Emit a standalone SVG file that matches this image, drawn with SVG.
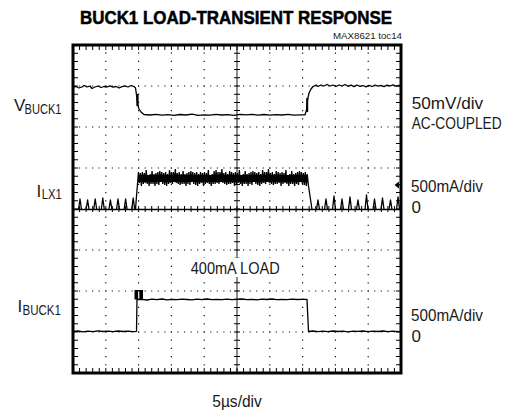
<svg xmlns="http://www.w3.org/2000/svg" width="512" height="414" viewBox="0 0 512 414">
<style>
.t{font-family:"Liberation Sans",Arial,sans-serif;fill:#1a1a1a}
.lab{font-size:17px}
.sub{font-size:14px}
.title{font-family:"Liberation Sans",Arial,sans-serif;font-weight:700;font-size:17.5px;fill:#000;stroke:#000;stroke-width:0.5}
.grid{fill:none;stroke:#111;stroke-width:1.2}
.tr{fill:none;stroke:#000;stroke-width:1.3;stroke-linejoin:round}
</style>
<rect width="512" height="414" fill="#fff"/>
<g id="title">
<text class="title" x="236" y="24" text-anchor="middle" textLength="312" lengthAdjust="spacingAndGlyphs">BUCK1 LOAD-TRANSIENT RESPONSE</text>
<text class="t" x="402" y="39.3" font-size="9" text-anchor="end" textLength="69" lengthAdjust="spacingAndGlyphs" fill="#333">MAX8621 toc14</text>
</g>
<g id="screen">
<rect x="73" y="45" width="328" height="328" fill="none" stroke="#000" stroke-width="3"/>
<path class="grid" stroke-dasharray="1.2 7" d="M105.8,44.4V373M138.6,44.4V373M171.4,44.4V373M204.2,44.4V373M269.8,44.4V373M302.6,44.4V373M335.4,44.4V373M368.2,44.4V373"/>
<path class="grid" stroke-dasharray="1.2 5.36" d="M72.4,86H401M72.4,127H401M72.4,168H401M72.4,250H401M72.4,291H401M72.4,332H401"/>
<path fill="none" stroke="#000" stroke-width="4" stroke-dasharray="1 7.2" d="M76,44.5V373M398,44.5V373"/>
<path fill="none" stroke="#000" stroke-width="4" stroke-dasharray="1 5.56" d="M72.5,48H401M72.5,370H401"/>
<path fill="none" stroke="#000" stroke-width="0.9" d="M237,45V373"/>
<path fill="none" stroke="#000" stroke-width="6" stroke-dasharray="1 7.2" d="M237,44.5V373"/>
<path fill="none" stroke="#000" stroke-width="6" stroke-dasharray="1 5.56" d="M72.5,209H401"/>
</g>
<g id="traces">
<polyline id="vbuck1-trace" class="tr" points="73,87 76,86.5 79,88 82,87 84,85.5 87,87 90,86 92,88.5 95,87 98,86 101,87.5 104,86.5 107,87 110,85.8 113,87.2 116,86.5 119,88 122,86.7 125,86 128,87 131,85.5 134,86.5 135.5,88 136.5,95 137.5,104 139,109 141,112 144,114.5 150,115 156,114.3 162,115.2 168,114.6 174,115.3 180,114.5 186,115 192,114.2 198,115.4 204,114.8 210,115.2 216,114.4 222,115 228,114.7 234,115.3 240,114.4 246,114.9 252,114.3 258,115.1 264,114.5 270,115.2 276,114.6 282,115 288,114.4 294,115.1 300,114.8 305,114.8 306.5,110 307.5,100 309,93 311,89 313,86.5 316,85 318,86.5 321,85 324,86 327,84.5 330,86 333,85 336,86.5 339,85 342,86 345,84.5 348,86.3 351,85.2 354,86.6 357,85 360,86.4 363,85.5 366,86.8 369,85.3 372,86.5 375,85 378,86.2 381,85.4 384,86.7 387,85.2 390,86 393,84.8 396,86.2 399,85.5 401,86"/>
<path fill="none" stroke="#000" stroke-width="2.2" d="M137.5,94V106"/>
<path fill="none" stroke="#000" stroke-width="2" d="M307.2,112V98"/>
<path id="ilx1-trace" class="tr" stroke-width="1.1" d="M73,209.5H401M78.5,209.5L80,199L81.5,209.5M86.1,209.5L87.6,200L89.1,209.5M93.7,209.5L95.2,199L96.7,209.5M101.3,209.5L102.8,198L104.3,209.5M108.9,209.5L110.4,200L111.9,209.5M116.5,209.5L118,199L119.5,209.5M124.1,209.5L125.6,199L127.1,209.5M131.7,209.5L133.2,198L134.7,209.5M316.5,209.5L318,200L319.5,209.5M324.5,209.5L326,199L327.5,209.5M332.5,209.5L334,196L335.5,209.5M340.5,209.5L342,199L343.5,209.5M348.5,209.5L350,197L351.5,209.5M356.5,209.5L358,200L359.5,209.5M365,209.5L366.5,195L368,209.5M373,209.5L374.5,199L376,209.5M381,209.5L382.5,198L384,209.5M389,209.5L390.5,200L392,209.5M396.5,209.5L398,197L399.5,209.5"/>
<rect x="138" y="175" width="170" height="7" fill="#000"/>
<path id="ilx1-band" fill="none" stroke="#000" stroke-width="1.3" stroke-linejoin="miter" d="M135.5,209.5L136.5,196L137.5,184
l.97,-12 .97,11 .97,-10 .97,13 .97,-14 .97,12 .97,-11 .97,10 .97,-13 .97,14 .97,-9 .97,11 .97,-12 .97,10 .97,-13 .97,13
l.97,-10 .97,12 .97,-13 .97,11 .97,-12 .97,13 .97,-14 .97,11 .97,-10 .97,12 .97,-11 .97,12 .97,-13 .97,14 .97,-12 .97,10
l.97,-14 .97,13 .97,-11 .97,12 .97,-12 .97,10 .97,-13 .97,14 .97,-10 .97,11 .97,-12 .97,13 .97,-11 .97,10 .97,-13 .97,13
l.97,-10 .97,12 .97,-13 .97,11 .97,-12 .97,13 .97,-14 .97,11 .97,-10 .97,12 .97,-11 .97,12 .97,-13 .97,14 .97,-12 .97,10
l.97,-12 .97,11 .97,-10 .97,13 .97,-14 .97,12 .97,-11 .97,10 .97,-13 .97,14 .97,-9 .97,11 .97,-12 .97,10 .97,-13 .97,13
l.97,-14 .97,13 .97,-11 .97,12 .97,-12 .97,10 .97,-13 .97,14 .97,-10 .97,11 .97,-12 .97,13 .97,-11 .97,10 .97,-13 .97,13
l.97,-12 .97,11 .97,-10 .97,13 .97,-14 .97,12 .97,-11 .97,10 .97,-13 .97,14 .97,-9 .97,11 .97,-12 .97,10 .97,-13 .97,13
l.97,-10 .97,12 .97,-13 .97,11 .97,-12 .97,13 .97,-14 .97,11 .97,-10 .97,12 .97,-11 .97,12 .97,-13 .97,14 .97,-12 .97,10
l.97,-14 .97,13 .97,-11 .97,12 .97,-12 .97,10 .97,-13 .97,14 .97,-10 .97,11 .97,-12 .97,13 .97,-11 .97,10 .97,-13 .97,13
l.97,-12 .97,11 .97,-10 .97,13 .97,-14 .97,12 .97,-11 .97,10 .97,-13 .97,14 .97,-9 .97,11 .97,-12 .97,10 .97,-13 .97,13
l.97,-10 .97,12 .97,-13 .97,11 .97,-12 .97,13 .97,-14 .97,11 .97,-10 .97,12 .97,-11 .97,12 .97,-13 .97,14 .97,-12 .97,10
L310,196L312,209.5"/>
<polyline id="ibuck1-trace" class="tr" points="73,331.5 78,331 83,331.8 88,331.2 93,331.6 98,330.8 103,331.5 108,331.2 113,331.7 118,331 123,331.5 128,331.1 133,331.6 136.5,331.3 137,299.5 142,299.3 147,300 152,299.2 157,299.6 162,299 167,299.8 172,299.4 177,299.7 182,299.1 187,299.5 192,299.8 197,299.2 202,299.6 207,299 212,299.7 217,299.3 222,299.6 227,299.1 232,299.7 237,299.4 242,299 247,299.6 252,299.3 257,299.8 262,299.2 267,299.5 272,299 277,299.6 282,299.3 287,299.7 292,299.1 297,299.5 302,299.3 307,299.4 308.5,331.5 313,331 318,331.7 323,331.2 328,331.6 333,331 338,331.5 343,331.2 348,331.8 353,331.1 358,331.4 363,331 368,331.6 373,331.2 378,331.5 383,331 388,331.6 393,331.2 398,331.7 401,331.3"/>
<rect x="134.5" y="290" width="8.5" height="9.5" fill="#000"/>
<path d="M138.7,291.5V298.5" stroke="#fff" stroke-width="1.2"/>
<polygon points="394.5,185 399,181.5 399,188.5" fill="#000"/>
</g>
<g id="node-vbuck1">
<text class="t lab" x="14" y="111">V</text>
<text class="t sub" x="61.5" y="114" text-anchor="end" textLength="37" lengthAdjust="spacingAndGlyphs">BUCK1</text>
</g>
<g id="node-ilx1">
<text class="t lab" x="36.5" y="196.5">I</text>
<text class="t sub" x="41.7" y="199" textLength="20" lengthAdjust="spacingAndGlyphs">LX1</text>
</g>
<g id="node-ibuck1">
<text class="t lab" x="17.5" y="311.5">I</text>
<text class="t sub" x="22.5" y="314.5" textLength="38.5" lengthAdjust="spacingAndGlyphs">BUCK1</text>
</g>
<g id="scale-labels">
<text class="t lab" x="411.7" y="108.5" textLength="71.5" lengthAdjust="spacingAndGlyphs">50mV/div</text>
<text class="t lab" x="411.7" y="129" textLength="90" lengthAdjust="spacingAndGlyphs">AC-COUPLED</text>
<text class="t lab" x="411" y="191.7" textLength="72" lengthAdjust="spacingAndGlyphs">500mA/div</text>
<text class="t lab" x="411.5" y="213">0</text>
<text class="t lab" x="411" y="320.5" textLength="72" lengthAdjust="spacingAndGlyphs">500mA/div</text>
<text class="t lab" x="411.5" y="342">0</text>
<rect x="189" y="258" width="93" height="19" fill="#fff"/>
<text class="t lab" x="190.7" y="273.5" textLength="89" lengthAdjust="spacingAndGlyphs">400mA LOAD</text>
<text class="t lab" x="212.3" y="406.5" textLength="49.5" lengthAdjust="spacingAndGlyphs">5µs/div</text>
</g>
</svg>
